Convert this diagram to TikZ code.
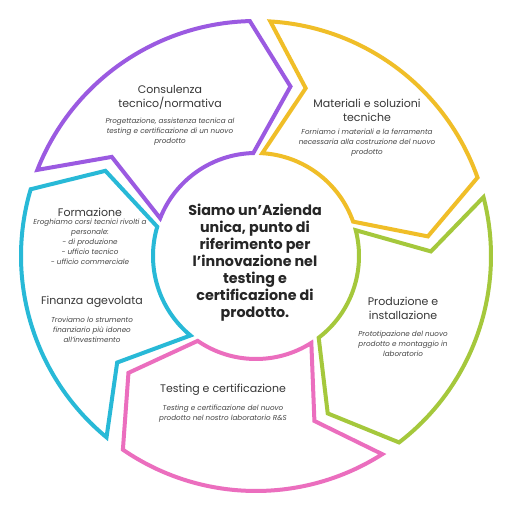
\documentclass[tikz,border=0pt]{standalone}
\usepackage{fontspec}
\setmainfont{Poppins}
\usepackage{tikz}
\usetikzlibrary{positioning}

\definecolor{violetring}{RGB}{155,90,225}
\definecolor{yellowring}{RGB}{240,190,40}
\definecolor{greenring}{RGB}{165,200,60}
\definecolor{pinkring}{RGB}{235,110,190}
\definecolor{cyanring}{RGB}{40,185,215}
\definecolor{titlegray}{RGB}{55,55,55}
\definecolor{descgray}{RGB}{70,70,70}

\begin{document}
\begin{tikzpicture}[
	  x=1pt, y=1pt,
	  ringpart/.style = {line width=4pt, line join=miter},
	  title/.style = {align=center, inner sep=0pt, text=titlegray, font=\fontsize{11}{14.5}\selectfont},
	  desc/.style = {align=center, inner sep=0pt, text=descgray, font=\fontsize{7.2}{10}\selectfont\itshape},
	  core/.style = {align=center, inner sep=0pt, text=black!85, font=\fontsize{14.3}{17}\selectfont\bfseries}
	]
	  \useasboundingbox[fill=white] (-256,-256) rectangle (256,256);

	  \foreach \from/\to/\col in {158.5/91.5/violetring, 86.5/19.5/yellowring, 14.5/-52.5/greenring, -57.5/-124.5/pinkring, -129.5/-196.5/cyanring}
		\draw[ringpart, draw=\col] (\from:235pt) arc[start angle=\from, end angle=\to, radius=235pt]
		  -- ({\to-13}:173pt) -- (\to:103pt) arc[start angle=\to, end angle=\from, radius=103pt]
		  -- ({\from-13}:175pt) -- cycle;

	  \node[core] (centre) at (-1,-7) {Siamo un'Azienda\\unica, punto di\\riferimento per\\l'innovazione nel\\testing e\\certificazione di\\prodotto.};

	  \node[title] (consulenza) at (-86,158.5) {Consulenza\\tecnico/normativa};
	  \node[desc, below=8pt of consulenza] (consulenzatxt) {Progettazione, assistenza tecnica al\\testing e certificazione di un nuovo\\prodotto};

	  \node[title] (materiali) at (111,145.5) {Materiali e soluzioni\\tecniche};
	  \node[desc, below=7pt of materiali] (materialitxt) {Forniamo i materiali e la ferramenta\\necessaria alla costruzione del nuovo\\prodotto};

	  \node[title] (formazione) at (-166,44) {Formazione};
	  \node[desc, below=2pt of formazione] (formazionetxt) {Eroghiamo corsi tecnici rivolti a\\personale:\\- di produzione\\- ufficio tecnico\\- ufficio commerciale};

	  \node[title] (finanza) at (-164,-46) {Finanza agevolata};
	  \node[desc, below=9pt of finanza] (finanzatxt) {Troviamo lo strumento\\finanziario più idoneo\\all'investimento};

	  \node[title] (produzione) at (147,-52.5) {Produzione e\\installazione};
	  \node[desc, below=11pt of produzione] (produzionetxt) {Prototipazione del nuovo\\prodotto e montaggio in\\laboratorio};

	  \node[title] (testing) at (-33,-134) {Testing e certificazione};
	  \node[desc, below=9pt of testing] (testingtxt) {Testing e certificazione del nuovo\\prodotto nel nostro laboratorio R\&S};
	\end{tikzpicture}
\end{document}
